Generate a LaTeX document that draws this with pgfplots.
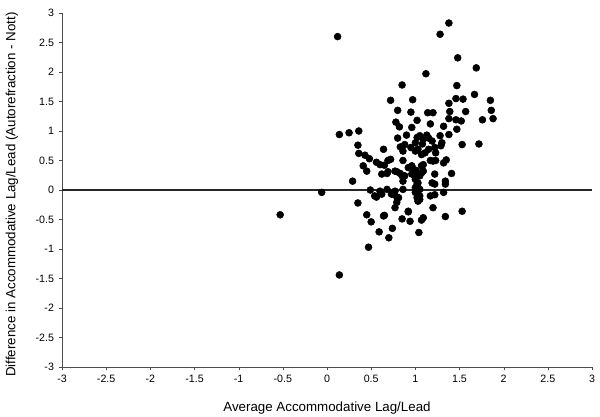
\documentclass[border=0pt]{standalone}
\usepackage{fontspec}
\setmainfont{Liberation Sans}
\usepackage{pgfplots}
\pgfplotsset{compat=1.18}
\begin{document}
\begin{tikzpicture}
\begin{axis}[
  scale only axis, width=397.5pt, height=265.5pt,
  xmin=-3, xmax=3, ymin=-3, ymax=3,
  xtick distance=0.5, ytick distance=0.5,
  axis lines*=left, axis line style={black!70},
  tick align=outside, major tick length=2.5pt, tick style={black!70},
  ticklabel style={font=\fontsize{8}{9}\selectfont},
  /pgf/number format/assume math mode=true,
  xlabel={Average Accommodative Lag/Lead},
  ylabel={Difference in Accommodative Lag/Lead (Autorefraction - Nott)},
  label style={font=\fontsize{10}{12}\selectfont},
  xlabel style={at={(axis description cs:0.5,-0.1158)}, anchor=center},
  ylabel style={at={(axis description cs:-0.0943,0.487)}, anchor=center},
  clip=false,
]
\addplot[black!85, line width=1pt] coordinates {(-3,0) (3,0)};
\addplot[only marks, mark=*, mark size=2.6pt, black] coordinates {
(0.12,2.60) (1.38,2.83) (1.28,2.64) (1.48,2.24) (1.69,2.07) (1.12,1.97)
(1.47,1.77) (0.85,1.78) (1.67,1.62) (0.72,1.52) (0.97,1.53) (1.46,1.55)
(1.54,1.54) (1.85,1.52) (1.38,1.47) (0.80,1.35) (0.95,1.32) (1.14,1.31)
(1.20,1.31) (1.39,1.33) (1.57,1.33) (1.86,1.35) (0.78,1.15) (1.02,1.18)
(1.17,1.12) (1.38,1.21) (1.46,1.19) (1.52,1.17) (1.76,1.19) (1.88,1.21)
(0.82,1.07) (0.96,1.06) (1.32,1.08) (1.47,1.03) (1.38,0.94) (0.14,0.94)
(0.25,0.97) (0.36,1.00) (0.90,0.93) (0.80,0.88) (1.02,0.89) (1.05,0.92)
(1.13,0.93) (1.09,0.86) (1.19,0.83) (1.30,0.80) (1.29,0.75) (1.53,0.77)
(1.72,0.78) (0.35,0.76) (0.64,0.69) (0.83,0.73) (0.88,0.77) (1.00,0.66)
(1.03,0.69) (1.07,0.60) (1.11,0.63) (1.15,0.69) (1.23,0.63) (0.36,0.62)
(0.43,0.59) (0.48,0.53) (0.72,0.52) (0.86,0.50) (0.56,0.47) (0.60,0.43)
(0.65,0.42) (0.41,0.41) (1.09,0.43) (1.17,0.50) (1.23,0.50) (1.32,0.46)
(1.35,0.51) (0.92,0.38) (0.96,0.41) (1.01,0.33) (1.07,0.41) (0.45,0.32)
(0.62,0.27) (0.68,0.28) (0.69,0.31) (0.79,0.31) (0.83,0.28) (0.85,0.24)
(0.88,0.24) (0.96,0.27) (1.02,0.27) (1.07,0.29) (1.22,0.27) (1.41,0.28)
(0.29,0.15) (0.86,0.15) (1.00,0.18) (1.02,0.10) (1.19,0.12) (1.22,0.10)
(1.34,0.15) (1.34,0.10) (0.49,0.00) (0.60,-0.02) (0.68,0.01) (0.77,-0.02)
(0.86,0.01) (1.00,0.04) (1.02,-0.02) (1.05,0.01) (1.32,-0.04) (-0.06,-0.04)
(-0.53,-0.42) (0.56,-0.12) (0.62,-0.07) (0.73,-0.07) (0.79,-0.12) (1.02,-0.13)
(1.05,-0.16) (1.03,-0.19) (1.17,-0.10) (1.22,-0.08) (0.79,-0.21) (0.77,-0.30)
(0.35,-0.22) (1.20,-0.30) (0.92,-0.36) (1.53,-0.36) (0.45,-0.42) (0.65,-0.43)
(1.34,-0.45) (0.85,-0.49) (0.94,-0.53) (1.07,-0.51) (1.09,-0.47) (0.50,-0.54)
(0.59,-0.71) (0.74,-0.65) (0.70,-0.81) (1.04,-0.72) (0.47,-0.97) (0.14,-1.44)
(1.28,0.92) (0.69,0.50) (0.77,0.32) (0.98,0.35) (1.09,0.32) (1.05,0.24)
(1.03,0.12) (1.03,0.04) (1.20,0.49) (0.54,-0.10) (0.81,-0.13) (1.05,-0.10)
(0.64,-0.44) (0.92,-0.37) (1.00,-0.04) (0.75,-0.07) (1.08,0.78) (1.15,0.88)
(1.00,0.80) (1.22,0.72) (0.95,0.72) (0.86,0.66)
};
\end{axis}
\pgfresetboundingbox
\path[use as bounding box] (-46.5pt,-37.5pt) rectangle (403.5pt,275.25pt);
\end{tikzpicture}
\end{document}
